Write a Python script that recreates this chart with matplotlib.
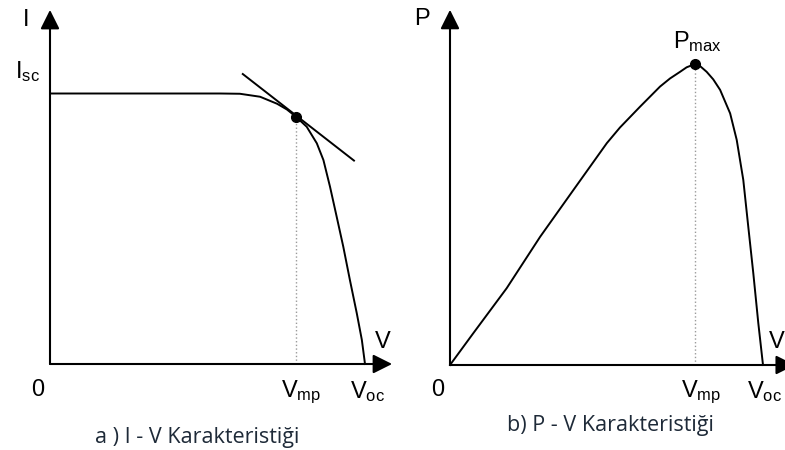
import matplotlib
matplotlib.use('Agg')
import matplotlib.pyplot as plt

plt.rcParams['font.family'] = ['Liberation Sans', 'DejaVu Sans']
plt.rcParams['mathtext.fontset'] = 'custom'
plt.rcParams['mathtext.rm'] = 'Liberation Sans'

# I-V curve (V normalised to Voc, I normalised to Isc)
iv_v = [0.0, 0.317, 0.540, 0.603, 0.667, 0.721, 0.752, 0.781, 0.815, 0.847, 0.868,
        0.889, 0.910, 0.931, 0.952, 0.974, 0.990, 1.0]
iv_i = [1.0, 1.0, 1.0, 0.999, 0.988, 0.962, 0.941, 0.914, 0.877, 0.816, 0.754,
        0.655, 0.545, 0.434, 0.311, 0.187, 0.089, 0.0]
iv_mpp = (0.781, 0.914)
tangent_v = [0.612, 0.965]
tangent_i = [1.072, 0.752]

# P-V curve (V normalised to Voc, P normalised to Pmax)
pv_v = [0.0, 0.074, 0.181, 0.288, 0.394, 0.501, 0.543, 0.607, 0.671, 0.703, 0.735,
        0.756, 0.783, 0.799, 0.820, 0.841, 0.863, 0.895, 0.916, 0.937, 0.953,
        0.969, 0.985, 1.0]
pv_p = [0.0, 0.105, 0.255, 0.426, 0.581, 0.737, 0.789, 0.858, 0.925, 0.952, 0.974,
        0.989, 1.0, 0.993, 0.974, 0.949, 0.914, 0.836, 0.748, 0.615, 0.459,
        0.305, 0.139, 0.0]
pv_mpp = (0.783, 1.0)

W, H = 785, 450
fig = plt.figure(figsize=(W / 100, H / 100), dpi=100)
fig.patch.set_facecolor('white')

lw = 1.4
txt = 17
cap_color = '#1e2a38'
cap_font = ['Open Sans', 'DejaVu Sans']


def make_axes(x0, y0, xpx, ypx, xmax, ymax):
    # origin at pixel (x0, y0); xpx / ypx = pixels per data unit
    ax = fig.add_axes([x0 / W, (H - y0) / H, xmax * xpx / W, ymax * ypx / H])
    ax.set_xlim(0, xmax)
    ax.set_ylim(0, ymax)
    ax.axis('off')
    return ax


def draw_axes(ax, xtip, ytip):
    arrow = dict(arrowstyle='-|>,head_length=0.8,head_width=0.4', color='black',
                 lw=1.5, mutation_scale=14.5, shrinkA=0, shrinkB=0)
    ax.annotate('', xy=(xtip, 0), xytext=(0, 0), arrowprops=arrow, annotation_clip=False)
    ax.annotate('', xy=(0, ytip), xytext=(0, 0), arrowprops=arrow, annotation_clip=False)


def ptext(x, y, s, **kw):
    # place a label at pixel position (from top-left)
    fig.text(x / W, 1 - y / H, s, ha='center', va='center', **kw)


# ---- a) I - V ----
ax1 = make_axes(50, 364, 315, 270.5, 1.086, 1.309)
draw_axes(ax1, 1.086, 1.309)
ax1.plot(iv_v, iv_i, color='black', lw=lw, clip_on=False, solid_joinstyle='round')
ax1.plot(tangent_v, tangent_i, color='black', lw=lw, clip_on=False)
ax1.plot([iv_mpp[0], iv_mpp[0]], [0, iv_mpp[1]], color='#9a9a9a', lw=1, ls=':')
ax1.plot(*iv_mpp, 'o', color='black', ms=7, clip_on=False)
ptext(26, 20, 'I', fontsize=txt)
ptext(27, 72, r'$\mathregular{I_{sc}}$', fontsize=txt)
ptext(38, 390, '0', fontsize=txt)
ptext(301, 392, r'$\mathregular{V_{mp}}$', fontsize=txt)
ptext(368, 392, r'$\mathregular{V_{oc}}$', fontsize=txt)
ptext(383, 342, 'V', fontsize=txt)
ptext(197, 437, 'a ) I - V Karakteristiği', fontsize=15.5, family=cap_font, color=cap_color)

# ---- b) P - V ----
ax2 = make_axes(450, 365, 313, 301, 1.102, 1.18)
draw_axes(ax2, 1.102, 1.18)
ax2.plot(pv_v, pv_p, color='black', lw=lw, clip_on=False, solid_joinstyle='round')
ax2.plot([pv_mpp[0], pv_mpp[0]], [0, pv_mpp[1]], color='#9a9a9a', lw=1, ls=':')
ax2.plot(*pv_mpp, 'o', color='black', ms=7, clip_on=False)
ptext(422, 19, 'P', fontsize=txt)
ptext(698, 42, r'$\mathregular{P_{max}}$', fontsize=txt)
ptext(438, 390, '0', fontsize=txt)
ptext(701, 392, r'$\mathregular{V_{mp}}$', fontsize=txt)
ptext(765, 392, r'$\mathregular{V_{oc}}$', fontsize=txt)
ptext(777, 342, 'V', fontsize=txt)
ptext(610, 425, 'b) P - V Karakteristiği', fontsize=15.5, family=cap_font, color=cap_color)

fig.savefig('out.png', dpi=100)
